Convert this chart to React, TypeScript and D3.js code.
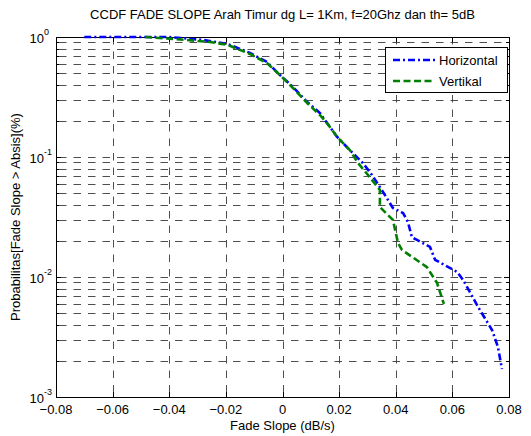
import React, { useEffect, useRef } from 'react';
import * as d3 from 'd3';

const title = "CCDF FADE SLOPE Arah Timur dg L= 1Km, f=20Ghz dan th= 5dB";
const xLabel = "Fade Slope (dB/s)";
const yLabel = "Probabilitas[Fade Slope > Absis](%)";

const xTicks = [-0.08, -0.06, -0.04, -0.02, 0, 0.02, 0.04, 0.06, 0.08];
const yExponents = [-3, -2, -1, 0];

// Horizontal (blue, dash-dot)
const horizontalX = [-0.07, -0.04, -0.028, -0.0193, -0.0115, -0.0055, -0.0009, 0.0037, 0.0087, 0.0132, 0.0157, 0.0193, 0.0238, 0.0284, 0.0316, 0.0355, 0.039, 0.0426, 0.0443, 0.0457, 0.0521, 0.0539, 0.0617, 0.0638, 0.0691, 0.074, 0.0761, 0.0775];
const horizontalY = [1.0, 1.0, 0.944, 0.874, 0.736, 0.619, 0.482, 0.383, 0.287, 0.233, 0.192, 0.147, 0.114, 0.089, 0.0708, 0.0511, 0.0376, 0.0341, 0.0287, 0.0215, 0.0178, 0.0139, 0.011, 0.00944, 0.00562, 0.00362, 0.00261, 0.00171];

// Vertikal (green, dashed)
const verticalX = [-0.0485, -0.038, -0.0256, -0.0193, -0.0115, -0.0055, -0.0009, 0.0037, 0.0087, 0.0132, 0.0157, 0.0193, 0.0238, 0.0267, 0.0302, 0.0344, 0.0344, 0.039, 0.0408, 0.0422, 0.051, 0.0546, 0.057];
const verticalY = [1.0, 0.962, 0.909, 0.858, 0.722, 0.607, 0.482, 0.376, 0.282, 0.224, 0.192, 0.147, 0.114, 0.089, 0.0708, 0.0532, 0.0383, 0.0299, 0.0192, 0.0168, 0.0121, 0.0089, 0.00596];

const App = () => {
    const svgRef = useRef<SVGSVGElement | null>(null);

    useEffect(() => {
        const width = 531;
        const height = 436;
        const margin = { top: 37, right: 22, bottom: 39, left: 56 };
        const font = "'Liberation Sans', Arial, sans-serif";
        const fs = "13px";

        d3.select(svgRef.current).selectAll("*").remove();
        const svg = d3.select(svgRef.current)
            .attr("width", width)
            .attr("height", height)
            .style("font-family", font);

        svg.append("rect").attr("width", width).attr("height", height).attr("fill", "white");

        const x = d3.scaleLinear().domain([-0.08, 0.08]).range([margin.left, width - margin.right]);
        const y = d3.scaleLog().domain([1e-3, 1]).range([height - margin.bottom, margin.top]);
        const [x0, x1] = x.range();
        const [y0, y1] = y.range();

        // y grid values: every 1..9 x decade
        const yGrid: number[] = [];
        yExponents.slice(0, -1).forEach(e => {
            for (let k = 1; k <= 9; k++) yGrid.push(k * Math.pow(10, e));
        });

        const grid = svg.append("g")
            .attr("stroke", "#3a3a3a")
            .attr("stroke-width", 0.9)
            .attr("stroke-dasharray", "7.5,7")
            .attr("fill", "none");

        grid.selectAll("line.gy")
            .data(yGrid.slice(1))
            .enter().append("line")
            .attr("x1", x0 + 3).attr("x2", x1)
            .attr("y1", d => Math.round(y(d)) + 0.5)
            .attr("y2", d => Math.round(y(d)) + 0.5);

        grid.selectAll("line.gx")
            .data(xTicks.slice(1, -1))
            .enter().append("line")
            .attr("y1", y1).attr("y2", y0)
            .attr("x1", d => Math.round(x(d)) + 0.5)
            .attr("x2", d => Math.round(x(d)) + 0.5);

        // ticks on all four sides, pointing inward
        const ticks = svg.append("g").attr("stroke", "black").attr("stroke-width", 1);
        xTicks.forEach(t => {
            const px = Math.round(x(t)) + 0.5;
            ticks.append("line").attr("x1", px).attr("x2", px).attr("y1", y0).attr("y2", y0 - 5);
            ticks.append("line").attr("x1", px).attr("x2", px).attr("y1", y1).attr("y2", y1 + 5);
        });
        [...yGrid, 1].forEach(t => {
            const py = Math.round(y(t)) + 0.5;
            const len = yExponents.includes(Math.round(Math.log10(t) * 1000) / 1000) ? 5 : 3;
            ticks.append("line").attr("x1", x0).attr("x2", x0 + len).attr("y1", py).attr("y2", py);
            ticks.append("line").attr("x1", x1).attr("x2", x1 - len).attr("y1", py).attr("y2", py);
        });

        // box
        svg.append("rect")
            .attr("x", x0 + 0.5).attr("y", y1 + 0.5)
            .attr("width", x1 - x0).attr("height", y0 - y1)
            .attr("fill", "none").attr("stroke", "black").attr("stroke-width", 1);

        // x tick labels
        svg.append("g").selectAll("text")
            .data(xTicks)
            .enter().append("text")
            .attr("x", d => x(d))
            .attr("y", y0 + 17)
            .attr("text-anchor", "middle")
            .style("font-size", fs)
            .text(d => d === 0 ? "0" : d3.format(".2f")(d));

        // y tick labels 10^e
        yExponents.forEach(e => {
            const py = y(Math.pow(10, e));
            svg.append("text")
                .attr("x", x0 - 12)
                .attr("y", py + 6)
                .attr("text-anchor", "end")
                .style("font-size", fs)
                .text("10");
            svg.append("text")
                .attr("x", x0 - 12)
                .attr("y", py - 2)
                .attr("text-anchor", "start")
                .style("font-size", "9px")
                .text(String(e));
        });

        // axis labels and title
        svg.append("text")
            .attr("x", (x0 + x1) / 2)
            .attr("y", height - 6)
            .attr("text-anchor", "middle")
            .style("font-size", fs)
            .text(xLabel);

        svg.append("text")
            .attr("transform", `translate(${20},${(y0 + y1) / 2}) rotate(-90)`)
            .attr("text-anchor", "middle")
            .style("font-size", fs)
            .text(yLabel);

        svg.append("text")
            .attr("x", (x0 + x1) / 2)
            .attr("y", 19)
            .attr("text-anchor", "middle")
            .style("font-size", fs)
            .text(title);

        // curves
        const line = d3.line<[number, number]>()
            .x(d => x(d[0]))
            .y(d => y(d[1]));

        const series = [
            { name: "Horizontal", xs: horizontalX, ys: horizontalY, color: "#0000ff", dash: "7,3,2,3" },
            { name: "Vertikal", xs: verticalX, ys: verticalY, color: "#008000", dash: "7,3.5" }
        ];

        series.forEach(s => {
            svg.append("path")
                .datum(s.xs.map((v, i) => [v, s.ys[i]] as [number, number]))
                .attr("d", line)
                .attr("fill", "none")
                .attr("stroke", s.color)
                .attr("stroke-width", 2.6)
                .attr("stroke-dasharray", s.dash)
                .attr("stroke-linejoin", "round");
        });

        // legend
        const lg = svg.append("g").attr("transform", `translate(385,47)`);
        lg.append("rect")
            .attr("x", 0.5).attr("y", 0.5)
            .attr("width", 122).attr("height", 45)
            .attr("fill", "white").attr("stroke", "black").attr("stroke-width", 1);
        series.forEach((s, i) => {
            const ly = 13 + i * 21;
            lg.append("line")
                .attr("x1", 8).attr("x2", 50)
                .attr("y1", ly).attr("y2", ly)
                .attr("stroke", s.color)
                .attr("stroke-width", 2.6)
                .attr("stroke-dasharray", s.dash);
            lg.append("text")
                .attr("x", 54)
                .attr("y", ly + 5)
                .style("font-size", fs)
                .text(s.name);
        });
    }, []);

    return (
        <div>
            <svg ref={svgRef} style={{ position: "absolute", left: 0, top: 0 }}></svg>
        </div>
    );
};

export default App;
